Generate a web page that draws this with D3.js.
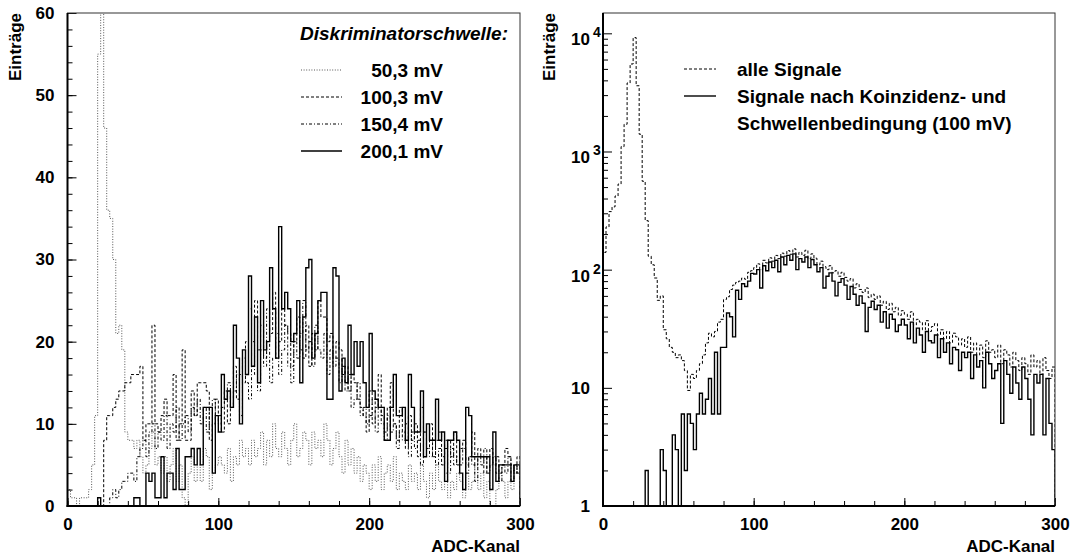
<!DOCTYPE html>
<html><head><meta charset="utf-8">
<script src="https://cdn.jsdelivr.net/npm/d3@7"></script>
<style>
body{margin:0;background:#fff;}
text{font-family:"Liberation Sans",Arial,Helvetica,sans-serif;font-weight:bold;fill:#000;}
</style>
</head><body>
<svg id="c" width="1071" height="555"></svg>
<script>
// ---------------- data ----------------
const binWidth = 2;            // ADC channels per bin
const xTickMajor = [0, 100, 200, 300];
const yTickLeft = [0, 10, 20, 30, 40, 50, 60];
const yTickRight = [1, 10, 100, 1000, 10000];
const legendLeftTitle = "Diskriminatorschwelle:";
const legendLeftLabels = ["50,3 mV", "100,3 mV", "150,4 mV", "200,1 mV"];
const legendRightLabels = ["alle Signale", "Signale nach Koinzidenz- und", "Schwellenbedingung (100 mV)"];

// left panel: entries per 2-channel bin, 0..300
const s50 = [
 2,1,1,0,1,1,1,2,5,11,
 55,80,46,36,35,30,21,22,19,9,
 8,8,7,8,6,4,5,7,9,5,
 6,4,6,3,5,7,3,5,1,0,
 4,6,3,5,3,7,6,2,4,5,
 6,5,4,7,3,6,5,8,6,7,
 5,8,6,7,9,5,8,6,10,7,
 6,9,7,5,8,10,6,7,9,8,
 5,9,7,8,6,10,8,5,7,9,
 6,4,8,5,7,4,6,3,5,4,
 2,5,3,6,2,4,5,3,6,2,
 4,3,2,5,3,4,2,5,3,1,
 4,2,5,3,2,4,1,3,2,4,
 3,1,4,2,3,5,2,4,1,3,
 0,0,2,4,3,1,3,2,5,4];
const s100 = [
 0,0,0,0,0,0,0,0,0,0,
 0,0,8,11,11,12,13,14,14,15,
 15,16,16,16,17,8,10,10,22,10,
 9,11,13,11,11,16,8,10,19,8,
 8,14,11,15,15,15,14,8,10,13,
 11,9,14,10,12,17,13,16,15,20,
 24,17,25,19,22,18,20,21,26,18,
 20,24,22,21,17,20,23,19,18,22,
 17,21,19,25,23,23,20,21,18,20,
 19,16,17,14,16,15,13,12,11,9,
 14,10,12,16,11,9,12,15,10,8,
 12,9,7,11,8,10,6,12,9,7,
 10,6,8,9,5,7,8,6,9,5,
 7,8,5,6,9,5,7,6,4,6,
 7,5,6,4,5,7,6,5,4,6];
const s150 = [
 0,0,0,0,0,0,0,0,0,0,
 0,0,0,0,1,2,1,2,3,3,
 4,4,3,6,7,8,6,9,10,7,
 9,8,11,7,10,9,12,8,10,11,
 9,12,11,13,10,12,9,12,13,11,
 10,12,13,15,12,14,16,11,18,15,
 13,20,16,14,19,17,24,15,18,21,
 16,19,22,17,15,20,18,21,25,19,
 20,17,22,19,18,21,16,19,17,18,
 15,17,14,16,12,13,15,11,12,10,
 11,13,9,12,10,8,11,9,10,7,
 9,8,10,6,9,7,8,5,9,7,
 6,8,5,7,6,8,4,7,5,6,
 5,7,4,6,5,3,6,5,7,4,
 5,6,4,3,5,4,6,3,5,4];
const s200 = [
 0,0,0,0,0,0,0,0,0,0,
 1,0,0,0,0,0,0,0,0,0,
 0,0,1,1,0,0,4,3,4,1,
 1,6,1,4,4,2,7,2,2,6,
 6,7,5,7,5,12,12,12,4,11,
 9,16,13,14,12,22,18,10,19,16,
 28,17,23,15,25,19,20,29,24,18,
 34,24,26,24,20,21,25,15,23,29,
 30,18,21,25,26,26,13,13,29,28,
 14,18,15,22,16,20,17,20,15,12,
 21,14,13,12,12,8,8,12,16,11,
 11,12,8,16,12,9,9,14,6,10,
 8,8,13,8,9,3,8,8,9,8,
 4,2,12,11,6,6,6,6,6,6,
 2,9,3,5,5,5,5,3,5,5];

// right panel (log scale)
const allSignals = [
 140,230,310,340,420,530,1100,1700,3800,5500,
 9200,3600,1400,560,260,130,110,85,55,60,
 31,26,22,20,18,19,17,14,9.5,13,
 12,14,16,19,24,29,27,30,36,38,
 56,59,68,74,78,80,85,83,95,98,
 104,112,100,120,114,126,118,132,124,138,
 130,145,135,150,128,140,132,146,124,136,
 125,110,118,106,100,108,94,98,88,95,
 86,80,84,70,76,68,64,70,58,62,
 56,60,50,54,46,52,44,48,41,45,
 42,38,44,34,38,36,31,37,30,33,
 35,28,31,26,30,24,29,27,23,26,
 22,27,20,24,19,23,18,25,20,21,
 18,23,16,21,19,15,20,17,14,18,
 16,13,19,15,17,13,18,14,12,15];
const coincSignals = [
 0,0,0,0,0,0,0,0,0,0,
 0,0,0,0,2,0,0,0,0,3,
 2,1,0,4,3,1,6,2,6,5,
 3,6,9,6,8,12,6,20,6,22,
 22,43,40,27,67,56,76,72,80,93,
 92,100,70,108,98,116,104,120,96,128,
 110,132,120,136,100,124,116,128,104,122,
 110,96,104,70,88,94,80,60,78,84,
 74,56,72,62,50,60,52,30,48,54,
 46,50,36,44,32,42,38,30,34,38,
 34,26,36,24,32,28,20,30,25,24,
 28,18,26,20,24,16,22,21,14,20,
 18,20,12,19,15,17,10,20,16,12,
 14,16,5,17,13,9,15,11,8,15,
 12,8,4,13,11,13,4,12,5,3];

// ---------------- drawing ----------------
const svg = d3.select("#c");
const FONT = '"Liberation Sans",Arial,Helvetica,sans-serif';

const xL = d3.scaleLinear().domain([0, 300]).range([67.5, 520]);
const yL = d3.scaleLinear().domain([0, 60]).range([506, 13]);
const xR = d3.scaleLinear().domain([0, 300]).range([603, 1055]);
const yR = d3.scaleLog().domain([1, 14860]).range([506, 13]);

const defs = svg.append("defs");
defs.append("clipPath").attr("id", "clipL").append("rect")
  .attr("x", xL(0)).attr("y", yL(60)).attr("width", xL(300) - xL(0)).attr("height", yL(0) - yL(60));
defs.append("clipPath").attr("id", "clipR").append("rect")
  .attr("x", xR(0)).attr("y", yR.range()[1]).attr("width", xR(300) - xR(0)).attr("height", yR.range()[0] - yR.range()[1]);

function stepPath(vals, x, y, floor) {
  const p = d3.path();
  p.moveTo(x(0), y(floor));
  vals.forEach((v, i) => {
    const vv = Math.max(v, floor);
    p.lineTo(x(i * binWidth), y(vv));
    p.lineTo(x((i + 1) * binWidth), y(vv));
  });
  p.lineTo(x(vals.length * binWidth), y(floor));
  return p.toString();
}

const styles = {
  s50:  {stroke: "#555", dash: "1,1.6", width: 1},
  s100: {stroke: "#000", dash: "3,2", width: 1},
  s150: {stroke: "#000", dash: "3,2,1,2", width: 1},
  s200: {stroke: "#000", dash: null, width: 1.4},
  all:  {stroke: "#000", dash: "3,2", width: 1},
  coinc:{stroke: "#000", dash: null, width: 1.4}
};

function drawHist(vals, x, y, floor, st, clip) {
  svg.append("path")
    .attr("d", stepPath(vals, x, y, floor))
    .attr("fill", "none")
    .attr("stroke", st.stroke)
    .attr("stroke-width", st.width)
    .attr("stroke-dasharray", st.dash)
    .attr("clip-path", "url(#" + clip + ")");
}

function styleAxis(g, size) {
  g.attr("font-family", null).attr("font-size", null);
  g.select(".domain").remove();
  g.selectAll(".tick line").attr("stroke", "#000").attr("stroke-width", 1);
  g.selectAll("text").style("font-family", FONT).style("font-weight", "bold").style("font-size", size + "px").attr("fill", "#000");
}

// ---- left panel
drawHist(s50, xL, yL, 0, styles.s50, "clipL");
drawHist(s150, xL, yL, 0, styles.s150, "clipL");
drawHist(s100, xL, yL, 0, styles.s100, "clipL");
drawHist(s200, xL, yL, 0, styles.s200, "clipL");

// ---- right panel
drawHist(allSignals, xR, yR, 1, styles.all, "clipR");
drawHist(coincSignals, xR, yR, 1, styles.coinc, "clipR");

// ---- axes, left
svg.append("g").attr("transform", `translate(${xL(0)},0)`)
  .call(d3.axisLeft(yL).tickValues(d3.range(0, 61, 2)).tickSize(-5).tickFormat(""))
  .call(g => styleAxis(g, 17));
svg.append("g").attr("transform", `translate(${xL(0)},0)`)
  .call(d3.axisLeft(yL).tickValues(yTickLeft).tickSize(-9).tickPadding(13).tickFormat(d3.format("d")))
  .call(g => styleAxis(g, 17));
svg.append("g").attr("transform", `translate(0,${yL(0)})`)
  .call(d3.axisBottom(xL).tickValues(d3.range(0, 301, 20)).tickSize(-5).tickFormat(""))
  .call(g => styleAxis(g, 17));
svg.append("g").attr("transform", `translate(0,${yL(0)})`)
  .call(d3.axisBottom(xL).tickValues(xTickMajor).tickSize(-8).tickPadding(12).tickFormat(d3.format("d")))
  .call(g => styleAxis(g, 17));

// ---- axes, right
const minorLog = [];
for (let e = 0; e < 5; e++) for (let m = 2; m <= 9; m++) { const v = m * Math.pow(10, e); if (v < yR.domain()[1]) minorLog.push(v); }
svg.append("g").attr("transform", `translate(${xR(0)},0)`)
  .call(d3.axisLeft(yR).tickValues(minorLog).tickSize(-5).tickFormat(""))
  .call(g => styleAxis(g, 17));
svg.append("g").attr("transform", `translate(${xR(0)},0)`)
  .call(d3.axisLeft(yR).tickValues(yTickRight).tickSize(-9).tickFormat(""))
  .call(g => styleAxis(g, 17));
svg.append("g").attr("transform", `translate(0,${yR(1)})`)
  .call(d3.axisBottom(xR).tickValues(d3.range(0, 301, 20)).tickSize(-5).tickFormat(""))
  .call(g => styleAxis(g, 17));
svg.append("g").attr("transform", `translate(0,${yR(1)})`)
  .call(d3.axisBottom(xR).tickValues(xTickMajor).tickSize(-8).tickPadding(12).tickFormat(d3.format("d")))
  .call(g => styleAxis(g, 17));

// log labels: 1, 10, 10^2, 10^3, 10^4
yTickRight.forEach(v => {
  const e = Math.round(Math.log10(v));
  const yy = yR(v);
  if (e <= 1) {
    svg.append("text").attr("x", xR(0) - 13).attr("y", yy + 6).attr("text-anchor", "end")
      .style("font-size", "17px").text(e === 0 ? "1" : "10");
  } else {
    svg.append("text").attr("x", xR(0) - 13).attr("y", yy + 12).attr("text-anchor", "end")
      .style("font-size", "17px").text("10");
    svg.append("text").attr("x", xR(0) - 10).attr("y", yy + 4).attr("text-anchor", "start")
      .style("font-size", "14px").text(String(e));
  }
});

// ---- frames
[[xL, yL(60), yL(0)], [xR, yR.range()[1], yR.range()[0]]].forEach(([x, top, bot]) => {
  svg.append("rect").attr("x", x(0)).attr("y", top).attr("width", x(300) - x(0)).attr("height", bot - top)
    .attr("fill", "none").attr("stroke", "#333").attr("stroke-width", 1);
  svg.append("line").attr("x1", x(0)).attr("x2", x(0)).attr("y1", top).attr("y2", bot + 1)
    .attr("stroke", "#000").attr("stroke-width", 2);
  svg.append("line").attr("x1", x(0) - 1).attr("x2", x(300)).attr("y1", bot).attr("y2", bot)
    .attr("stroke", "#000").attr("stroke-width", 2);
});

// ---- axis titles
[[xL, 21], [xR, 555]].forEach(([x, tx]) => {
  svg.append("text").attr("transform", `translate(${tx},13) rotate(-90)`).attr("text-anchor", "end")
    .style("font-size", "17px").text("Einträge");
  svg.append("text").attr("x", x(300)).attr("y", 552).attr("text-anchor", "end")
    .style("font-size", "17px").text("ADC-Kanal");
});

// ---- legend left
svg.append("text").attr("x", 300).attr("y", 40).style("font-size", "19px").style("font-style", "italic")
  .text(legendLeftTitle);
const legSt = [styles.s50, styles.s100, styles.s150, styles.s200];
legendLeftLabels.forEach((lab, i) => {
  const yy = 77 + i * 27;
  svg.append("line").attr("x1", 301).attr("x2", 342).attr("y1", yy - 7).attr("y2", yy - 7)
    .attr("stroke", legSt[i].stroke).attr("stroke-width", legSt[i].width).attr("stroke-dasharray", legSt[i].dash);
  svg.append("text").attr("x", 443).attr("y", yy).attr("text-anchor", "end").style("font-size", "19px").text(lab);
});

// ---- legend right
const legR = [styles.all, styles.coinc];
legendRightLabels.forEach((lab, i) => {
  const yy = 76 + i * 27;
  if (i < 2) svg.append("line").attr("x1", 684).attr("x2", 716).attr("y1", yy - 7).attr("y2", yy - 7)
    .attr("stroke", legR[i].stroke).attr("stroke-width", legR[i].width).attr("stroke-dasharray", legR[i].dash);
  svg.append("text").attr("x", 737).attr("y", yy).style("font-size", "19px").text(lab);
});
</script>
</body></html>
